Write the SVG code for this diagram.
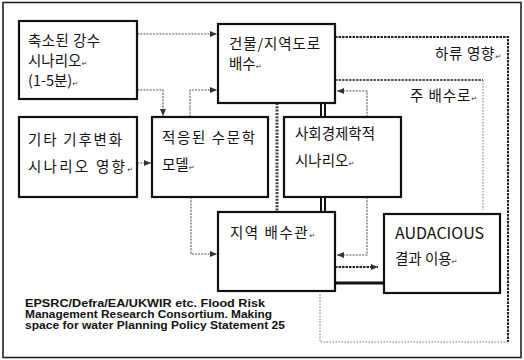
<svg xmlns="http://www.w3.org/2000/svg" width="524" height="360" viewBox="0 0 524 360">
<style>
.box{fill:#fff;stroke:#111;stroke-width:2.2}
.kt{font-family:"Noto Sans CJK KR","Noto Sans",sans-serif;font-size:14.5px;fill:#111}
.rt{font-family:"DejaVu Sans",sans-serif;font-size:7px;fill:#333}
.dot{fill:none;stroke:#555;stroke-width:1.1;stroke-dasharray:2 1.2}
.dk{fill:none;stroke:#222;stroke-width:2;stroke-dasharray:2.5 1}
.lt{fill:none;stroke:#777;stroke-width:1;stroke-dasharray:1.5 1.5}
.ref{font-family:"Liberation Sans",Arial,sans-serif;font-size:10.5px;font-weight:bold;fill:#111}
</style>
<defs>
<marker id="ar" markerUnits="userSpaceOnUse" markerWidth="7" markerHeight="6" refX="7" refY="3" orient="auto">
<path d="M0,0 L7,3 L0,6 z" fill="#333"/>
</marker>
</defs>
<rect x="0" y="0" width="524" height="360" fill="#fff"/>
<rect x="3" y="2.5" width="518" height="355" fill="none" stroke="#222" stroke-width="1.6"/>

<g id="regions">
<path class="dk" d="M335,37 H508 V342"/>
<path class="lt" d="M508,342 H320 V293"/>
<path class="dk" d="M335,80 H483" style="stroke-width:1.5"/>
<path class="lt" d="M483,80 V210"/>
<text class="kt" x="435" y="59" textLength="66">하류 영향<tspan class="rt">↵</tspan></text>
<text class="kt" x="410" y="101" textLength="67">주 배수로<tspan class="rt">↵</tspan></text>
</g>

<g id="connectors">
<path class="dot" d="M137,34 H217" marker-end="url(#ar)"/>
<path class="dot" d="M137,90 H163 V116" marker-end="url(#ar)"/>
<path class="dot" d="M190,117 V90 H217" marker-end="url(#ar)"/>
<path class="dot" d="M137,163 H151" marker-end="url(#ar)"/>
<path class="dot" d="M191,197 V254 H217" marker-end="url(#ar)"/>
<path class="dot" d="M367,117 V91 H337" marker-end="url(#ar)"/>
<path class="dot" d="M367,197 V255 H337" marker-end="url(#ar)"/>
<path class="dk" d="M335,267 H378" marker-end="url(#ar)"/>
<path d="M335,283 H384" stroke="#111" stroke-width="3"/>
<path d="M277,103 V212" fill="none" stroke="#444" stroke-width="3" stroke-dasharray="2 1.3"/>
<path d="M321,103 V117 M325,103 V117 M321,197 V212 M325,197 V212" stroke="#111" stroke-width="2"/>
</g>

<g id="n-rain">
<rect class="box" x="19" y="21" width="118" height="78"/>
<text class="kt" x="28" y="46" textLength="72">축소된 강수</text>
<text class="kt" x="28" y="66">시나리오<tspan class="rt">↵</tspan></text>
<text class="kt" x="28" y="86">(1-5분)<tspan class="rt">↵</tspan></text>
</g>
<g id="n-building">
<rect class="box" x="218" y="24" width="117" height="79"/>
<text class="kt" x="229" y="49" textLength="91">건물/지역도로</text>
<text class="kt" x="229" y="69">배수<tspan class="rt">↵</tspan></text>
</g>
<g id="n-climate">
<rect class="box" x="19" y="117" width="118" height="80"/>
<text class="kt" x="28" y="145" textLength="94">기타 기후변화</text>
<text class="kt" x="28" y="172" textLength="105">시나리오 영향<tspan class="rt">↵</tspan></text>
</g>
<g id="n-hydro">
<rect class="box" x="152" y="117" width="116" height="80"/>
<text class="kt" x="162" y="143" textLength="93">적응된 수문학</text>
<text class="kt" x="162" y="170">모델<tspan class="rt">↵</tspan></text>
</g>
<g id="n-socio">
<rect class="box" x="284" y="117" width="117" height="80"/>
<text class="kt" x="295" y="139">사회경제학적</text>
<text class="kt" x="295" y="166">시나리오<tspan class="rt">↵</tspan></text>
</g>
<g id="n-local">
<rect class="box" x="218" y="212" width="117" height="79"/>
<text class="kt" x="230" y="238" textLength="85">지역 배수관<tspan class="rt">↵</tspan></text>
</g>
<g id="n-audacious">
<rect class="box" x="384" y="214" width="116" height="79"/>
<text class="kt" x="395" y="239" style="font-size:16px">AUDACIOUS</text>
<text class="kt" x="395" y="264">결과 이용<tspan class="rt">↵</tspan></text>
</g>

<g id="source">
<text class="ref" x="25" y="307" textLength="240" lengthAdjust="spacingAndGlyphs">EPSRC/Defra/EA/UKWIR etc. Flood Risk</text>
<text class="ref" x="25" y="318" textLength="247" lengthAdjust="spacingAndGlyphs">Management Research Consortium. Making</text>
<text class="ref" x="25" y="329" textLength="260" lengthAdjust="spacingAndGlyphs">space for water Planning Policy Statement 25</text>
</g>
</svg>
